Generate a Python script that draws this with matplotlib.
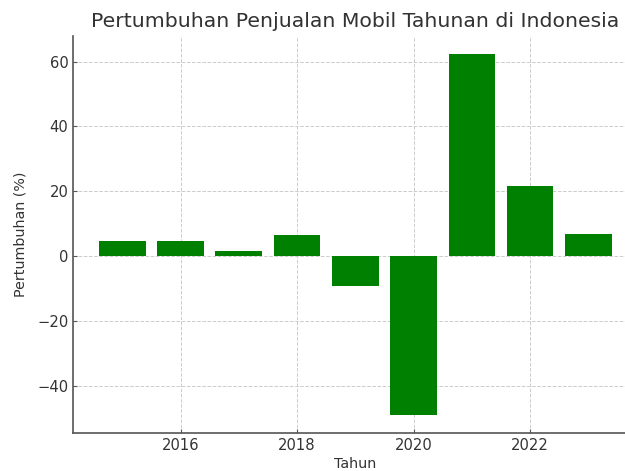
import matplotlib
matplotlib.use("Agg")
import matplotlib.pyplot as plt

years = [2015, 2016, 2017, 2018, 2019, 2020, 2021, 2022, 2023]
growth = [4.7, 4.7, 1.5, 6.7, -9.3, -48.9, 62.4, 21.7, 7.0]
xticks = [2016, 2018, 2020, 2022]
yticks = [-40, -20, 0, 20, 40, 60]

plt.rcParams['font.family'] = ['DejaVu Sans']
text_color = '#333333'

W, H = 625, 471
fig = plt.figure(figsize=(W / 100, H / 100), dpi=100)
left, right, top, bottom = 73.3, 637.3, 35.7, 433.0
ax = fig.add_axes([left / W, (H - bottom) / H, (right - left) / W, (bottom - top) / H])
ax.bar(years, growth, width=0.8, color='green', zorder=2)
ax.set_xticks(xticks)
ax.set_yticks(yticks)
ax.grid(True, linestyle='--', color='#cccccc', linewidth=0.7, zorder=0)
for s in ['top', 'right']:
    ax.spines[s].set_visible(False)
for s in ['left', 'bottom']:
    ax.spines[s].set_color('#555555')
    ax.spines[s].set_linewidth(1.2)
ax.tick_params(direction='in', length=3, colors='#555555', labelcolor=text_color, labelsize=10.6)
ax.set_title('Pertumbuhan Penjualan Mobil Tahunan di Indonesia', fontsize=14.7, color=text_color, pad=6)
ax.set_xlabel('Tahun', fontsize=10.3, color=text_color, labelpad=3)
ax.set_ylabel('Pertumbuhan (%)', fontsize=10.3, color=text_color, labelpad=7)
fig.savefig('out.png', dpi=100)
